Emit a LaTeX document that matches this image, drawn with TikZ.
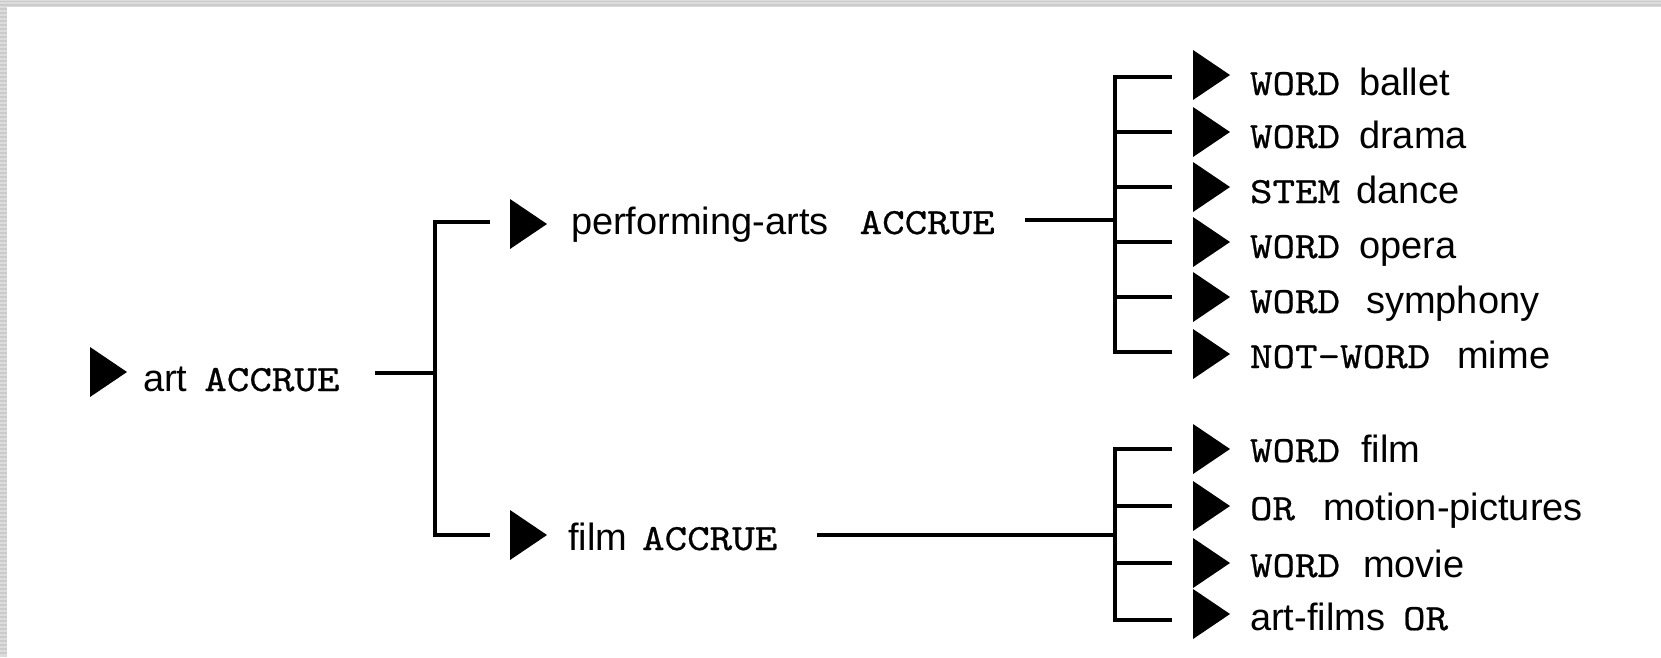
\documentclass[tikz,border=0pt]{standalone}
\usepackage{fontspec}
\setmainfont{Liberation Sans}
% keyword face: a slightly widened, lightly emboldened typewriter face
\newfontfamily\kwfont{lmmono10-regular.otf}[FakeStretch=1.16,FakeBold=0.6]
\newcommand\kw[1]{{\kwfont\fontsize{37}{40}\selectfont #1}}
\definecolor{band}{HTML}{DCDCDC}
\definecolor{bandline}{HTML}{CBCBCB}
\tikzset{
  lbl/.style={anchor=base west, inner sep=0pt, outer sep=0pt,
              font=\fontsize{38}{42}\selectfont},
  wire/.style={line width=3.6pt, line join=miter},
  pics/pointer/.style={code={\fill (0,-25) -- (37,0) -- (0,25) -- cycle;}}
}
\begin{document}
\begin{tikzpicture}[x=1pt,y=-1pt]
\useasboundingbox (0,0) rectangle (1661,657);
\fill[white] (0,0) rectangle (1661,657);
% window frame bands
\fill[band] (0,0) rectangle (1661,7);
\fill[band] (0,0) rectangle (7,657);
\foreach \k in {9,13,...,655} \draw[bandline, line width=1.2pt] (0,\k) -- (7,\k);
\foreach \k in {1.5,5} \draw[bandline, line width=1.2pt] (0,\k) -- (1661,\k);

% root
\pic at (90,372) {pointer};
\node[lbl] (art) at (143,391) {art\hspace{17pt}\kw{ACCRUE}};

% second level
\pic at (510,224) {pointer};
\node[lbl] (perf) at (571,234) {performing-arts\hspace{31pt}\kw{ACCRUE}};
\pic at (510,535) {pointer};
\node[lbl] (film) at (568,550) {film\hspace{15pt}\kw{ACCRUE}};

% leaves under performing-arts
\pic at (1193,75)  {pointer};
\node[lbl] (ballet) at (1250,95)  {\kw{WORD}\hspace{19pt}ballet};
\pic at (1193,132) {pointer};
\node[lbl] (drama) at (1250,148) {\kw{WORD}\hspace{19pt}drama};
\pic at (1193,187) {pointer};
\node[lbl] (dance) at (1250,203) {\kw{STEM}\hspace{16pt}dance};
\pic at (1193,242) {pointer};
\node[lbl] (opera) at (1250,258) {\kw{WORD}\hspace{19pt}opera};
\pic at (1193,297) {pointer};
\node[lbl] (symph) at (1250,313) {\kw{WORD}\hspace{26pt}symphony};
\pic at (1193,354) {pointer};
\node[lbl] (mime) at (1250,368) {\kw{NOT-WORD}\hspace{27pt}mime};

% leaves under film
\pic at (1193,449) {pointer};
\node[lbl] (wfilm) at (1250,462) {\kw{WORD}\hspace{21pt}film};
\pic at (1193,506) {pointer};
\node[lbl] (motion) at (1250,520) {\kw{OR}\hspace{28pt}motion-pictures};
\pic at (1193,563) {pointer};
\node[lbl] (movie) at (1250,577) {\kw{WORD}\hspace{23pt}movie};
\pic at (1193,614) {pointer};
\node[lbl] (artfilms) at (1250,630) {art-films\hspace{18pt}\kw{OR}};

% connector end points
\coordinate (artout) at (375,373);
\coordinate (rootbar) at (435,373);
\coordinate (perfin) at (490,222);
\coordinate (filmin) at (490,535);
\coordinate (perfout) at (1025,220);
\coordinate (topbar) at (1115,220);
\coordinate (filmout) at (817,535);
\coordinate (botbar) at (1115,535);
\coordinate (s1) at (1172,77);
\coordinate (s2) at (1172,132);
\coordinate (s3) at (1172,187);
\coordinate (s4) at (1172,242);
\coordinate (s5) at (1172,297);
\coordinate (s6) at (1172,352);
\coordinate (t1) at (1172,449);
\coordinate (t2) at (1172,506);
\coordinate (t3) at (1172,563);
\coordinate (t4) at (1172,620);

% root bracket
\draw[wire] (artout) -- (rootbar);
\draw[wire] (perfin) -| (rootbar) |- (filmin);

% performing-arts bracket
\draw[wire] (perfout) -- (topbar);
\draw[wire] (s1) -| (topbar) |- (s6);
\foreach \s in {s2,s3,s4,s5} \draw[wire] (topbar |- \s) -- (\s);

% film bracket
\draw[wire] (filmout) -- (botbar);
\draw[wire] (t1) -| (botbar) |- (t4);
\foreach \s in {t2,t3} \draw[wire] (botbar |- \s) -- (\s);
\end{tikzpicture}
\end{document}
